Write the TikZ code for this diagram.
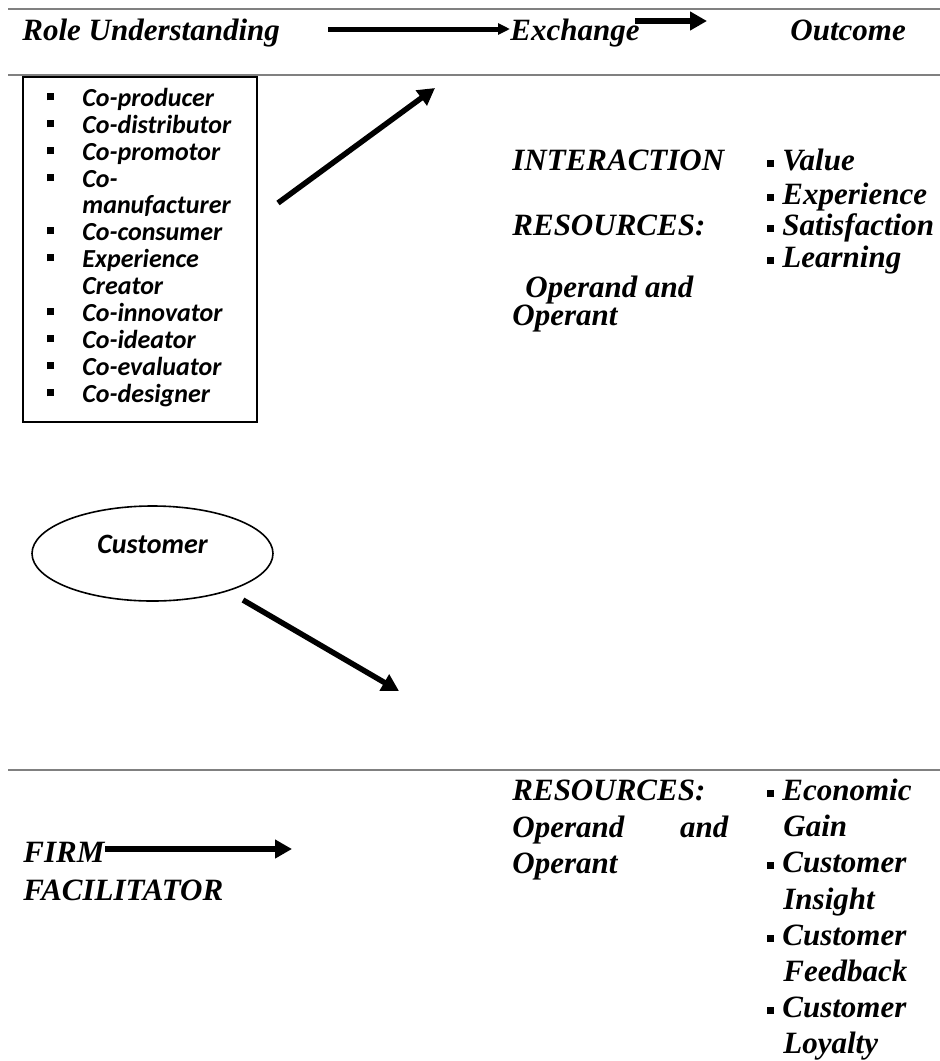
\documentclass[tikz,border=0pt]{standalone}
\usepackage{fontspec}
\setmainfont{Liberation Serif}
\newfontfamily\calib{Carlito}
\usetikzlibrary{arrows.meta,shapes.geometric}
\newcommand{\rolebul}{\makebox[17.5pt][l]{\rule[2.8pt]{3.5pt}{3.5pt}}}
\newcommand{\gainbul}{\rule[1.5pt]{3.5pt}{3.5pt}\hspace{4pt}}

\begin{document}
\begin{tikzpicture}[x=0.5pt,y=-0.5pt,
	head/.style={font=\fontsize{15.5}{18}\selectfont\bfseries\itshape, anchor=base west, inner sep=0pt},
	role/.style={font=\calib\fontsize{13}{15}\selectfont\bfseries\itshape, anchor=base west, inner sep=0pt},
	sepline/.style={draw=gray, line width=0.75pt},
	arr/.style={-{Triangle[length=8.5pt,width=9pt]}, line width=2.75pt},
	smallarr/.style={-{Triangle[length=6pt,width=5.5pt]}, line width=2.5pt}
	]
	\useasboundingbox (0,0) rectangle (940,1061);
	% section rules
	\draw[sepline] (8,9) -- (940,9);
	\draw[sepline] (8,75) -- (940,75);
	\draw[sepline] (8,770) -- (940,770);

	% header row
	\node[head] (roleund) at (22,40) {Role Understanding};
	\node[head] (exch) at (510,40) {Exchange};
	\node[head] (outc) at (790,40) {Outcome};
	\coordinate (a1) at (328,29);
	\coordinate (b1) at (635,21);
	\coordinate (b2) at (707,21);
	\draw[smallarr] (a1) -- (a1 -| exch.west);
	\draw[arr] (b1) -- (b2);

	% customer roles
	\node[draw, line width=1pt, minimum width=117pt, minimum height=172.5pt, inner sep=0pt] (rolebox) at (140,249.5) {};
	\node[role] (r1) at (47,106) {\rolebul Co-producer};
	\node[role] (r2) at (47,133) {\rolebul Co-distributor};
	\node[role] (r3) at (47,160) {\rolebul Co-promotor};
	\node[role] (r4) at (47,187) {\rolebul Co-};
	\node[role] (r4b) at (82,213) {manufacturer};
	\node[role] (r5) at (47,240) {\rolebul Co-consumer};
	\node[role] (r6) at (47,267) {\rolebul Experience};
	\node[role] (r6b) at (82,294) {Creator};
	\node[role] (r7) at (47,321) {\rolebul Co-innovator};
	\node[role] (r8) at (47,348) {\rolebul Co-ideator};
	\node[role] (r9) at (47,375) {\rolebul Co-evaluator};
	\node[role] (r10) at (47,402) {\rolebul Co-designer};
	\coordinate (c1) at (278,203);
	\coordinate (c2) at (435,88);
	\draw[arr] (c1) -- (c2);

	% interaction
	\node[head] (inter) at (512,170) {INTERACTION};
	\node[head] (res1) at (512,235) {RESOURCES:};
	\node[head] (opa1) at (525,297) {Operand and};
	\node[head] (opb1) at (512,325) {Operant};
	\node[head] (val) at (767,170) {\gainbul Value};
	\node[head] (expe) at (767,204) {\gainbul Experience};
	\node[head] (sat) at (767,235) {\gainbul Satisfaction};
	\node[head] (learn) at (767,267) {\gainbul Learning};

	% customer
	\node[draw, ellipse, line width=0.8pt, minimum width=120.5pt, minimum height=47.5pt, inner sep=0pt,
		font=\calib\fontsize{14}{16}\selectfont\bfseries\itshape, text depth=9pt] (cust) at (152.5,553.5) {Customer};
	\coordinate (d1) at (243,600);
	\coordinate (d2) at (399,691);
	\draw[arr] (d1) -- (d2);

	% firm
	\node[head] (firm) at (23,862) {FIRM};
	\node[head] (facil) at (23,900) {FACILITATOR};
	\coordinate (e2) at (292,849);
	\draw[arr] (firm.east |- e2) -- (e2);
	\node[head] (res2) at (512,800) {RESOURCES:};
	\node[head] (opa2) at (512,837) {\makebox[108pt][s]{Operand\hfill and}};
	\node[head] (opb2) at (512,873) {Operant};
	\node[head] (econ) at (767,800) {\gainbul Economic};
	\node[head] (gain) at (783,836) {Gain};
	\node[head] (ins1) at (767,872) {\gainbul Customer};
	\node[head] (ins2) at (783,909) {Insight};
	\node[head] (fb1) at (767,945) {\gainbul Customer};
	\node[head] (fb2) at (783,981) {Feedback};
	\node[head] (loy1) at (767,1017) {\gainbul Customer};
	\node[head] (loy2) at (783,1053) {Loyalty};
\end{tikzpicture}
\end{document}
